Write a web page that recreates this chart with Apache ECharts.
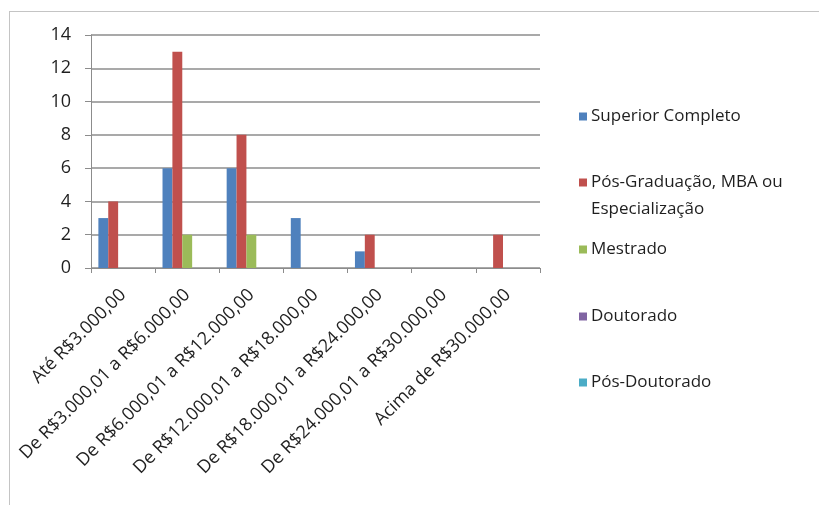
<!DOCTYPE html>
<html>
<head>
<meta charset="utf-8">
<script src="https://cdn.jsdelivr.net/npm/echarts@6/dist/echarts.min.js"></script>
<style>
  html, body { margin: 0; padding: 0; background: #ffffff; }
  #frame { position: absolute; left: 9px; top: 11px; width: 830px; height: 520px; border: 1px solid #c4c4c4; box-sizing: border-box; }
  #chart { position: absolute; left: 0; top: 0; width: 819px; height: 505px; }
</style>
</head>
<body>
<div id="frame"></div>
<div id="chart"></div>
<script>
// Faixas salariais (eixo X)
const categories = [
  'Até R$3.000,00',
  'De R$3.000,01 a R$6.000,00',
  'De R$6.000,01 a R$12.000,00',
  'De R$12.000,01 a R$18.000,00',
  'De R$18.000,01 a R$24.000,00',
  'De R$24.000,01 a R$30.000,00',
  'Acima de R$30.000,00'
];

// Quantidade de respondentes por escolaridade
const superiorCompleto = [3, 6, 6, 3, 1, null, null];
const posGraduacao     = [4, 13, 8, null, 2, null, 2];
const mestrado         = [null, 2, 2, null, null, null, null];
const doutorado        = [null, null, null, null, null, null, null];
const posDoutorado     = [null, null, null, null, null, null, null];

const seriesNames = [
  'Superior Completo',
  'Pós-Graduação, MBA ou Especialização',
  'Mestrado',
  'Doutorado',
  'Pós-Doutorado'
];
const seriesData = [superiorCompleto, posGraduacao, mestrado, doutorado, posDoutorado];
const colors = ['#4F81BD', '#C0504D', '#9BBB59', '#8064A2', '#4BACC6'];

const yTicks = { min: 0, max: 14, interval: 2 };

const FONT = '"Open Sans", sans-serif';
const TEXT_COLOR = '#1f1f1f';

// legend entries placed one by one down the right side
const legendTops = [103, 169, 236, 303, 369];
const legends = seriesNames.map((name, i) => ({
  data: [name],
  left: 574,
  top: legendTops[i],
  orient: 'vertical',
  icon: 'rect',
  itemWidth: 8,
  itemHeight: 8,
  itemGap: 0,
  selectedMode: false,
  formatter: n => (i === 1 ? 'Pós-Graduação, MBA ou' : n),
  textStyle: { fontFamily: FONT, fontSize: 17, color: TEXT_COLOR, padding: [0, 0, 0, -1] }
}));

const chart = echarts.init(document.getElementById('chart'), null, { renderer: 'canvas' });
chart.setOption({
  animation: false,
  color: colors,
  grid: { left: 91, right: 279, top: 35, bottom: 237, containLabel: false },
  legend: legends,
  graphic: [{
    type: 'text',
    left: 591,
    top: 201,
    style: { text: 'Especialização', font: '17px ' + FONT, fill: TEXT_COLOR }
  }],
  xAxis: {
    type: 'category',
    data: categories,
    boundaryGap: true,
    axisLine: { lineStyle: { color: '#8c8c8c', width: 1 } },
    axisTick: { show: true, alignWithLabel: false, length: 5, lineStyle: { color: '#8c8c8c' } },
    axisLabel: {
      interval: 0,
      rotate: 45,
      margin: 24,
      fontFamily: FONT,
      fontSize: 18,
      color: TEXT_COLOR
    },
    splitLine: { show: false }
  },
  yAxis: {
    type: 'value',
    min: yTicks.min,
    max: yTicks.max,
    interval: yTicks.interval,
    axisLine: { show: true, lineStyle: { color: '#8c8c8c', width: 1 } },
    axisTick: { show: true, inside: false, length: 6, lineStyle: { color: '#8c8c8c' } },
    axisLabel: { margin: 20, fontFamily: FONT, fontSize: 18, color: TEXT_COLOR },
    splitLine: { show: true, lineStyle: { color: '#8c8c8c', width: 1.5 } }
  },
  series: seriesNames.map((name, i) => ({
    name: name,
    type: 'bar',
    data: seriesData[i],
    barGap: '0%',
    barCategoryGap: '23%',
    itemStyle: { color: colors[i] }
  }))
});
</script>
</body>
</html>
